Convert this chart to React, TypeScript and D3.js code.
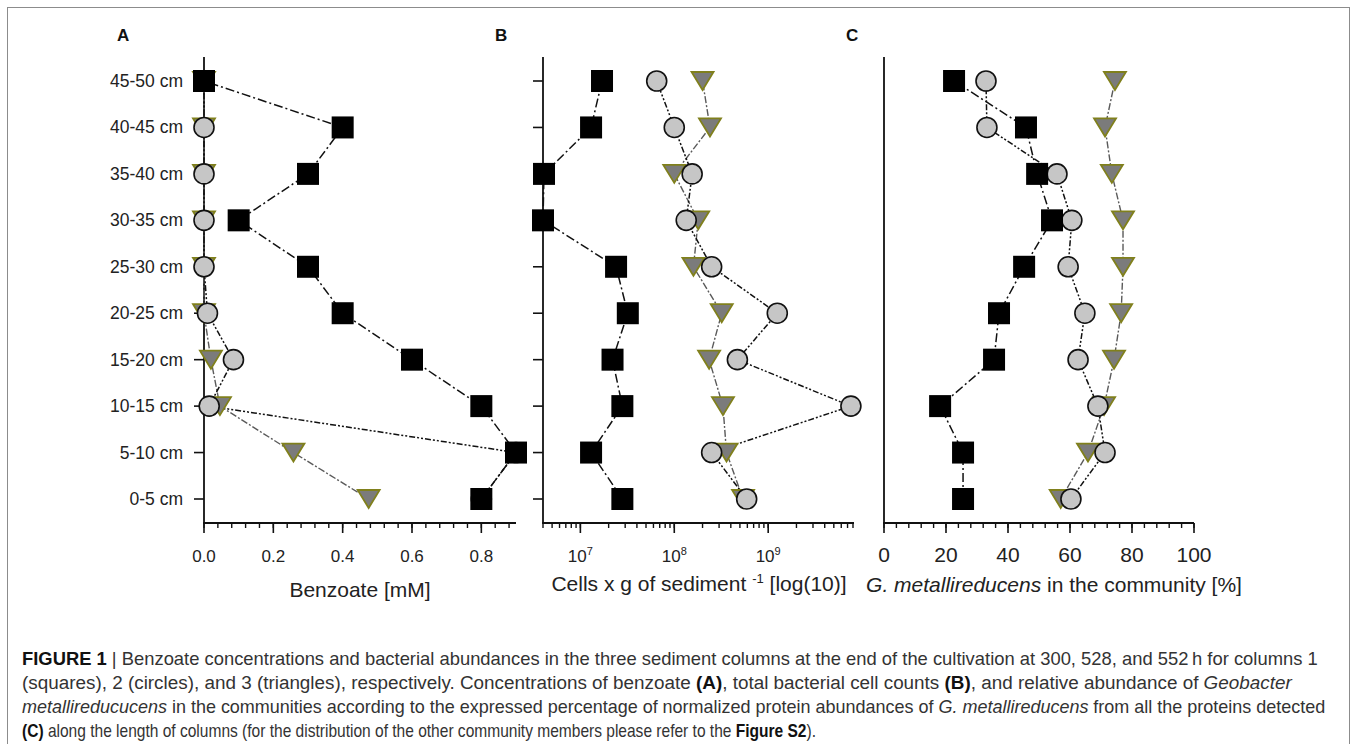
import React, { useEffect, useRef } from 'react';
import * as d3 from 'd3';

// depth classes, bottom of the column first
const depths = ['0-5 cm', '5-10 cm', '10-15 cm', '15-20 cm', '20-25 cm', '25-30 cm', '30-35 cm', '35-40 cm', '40-45 cm', '45-50 cm'];

// A: benzoate [mM]
const benzoateCol1 = [0.8, 0.9, 0.8, 0.6, 0.4, 0.3, 0.1, 0.3, 0.4, 0.0];
const benzoateCol2 = [0.8, 0.9, 0.015, 0.085, 0.01, 0.0, 0.0, 0.0, 0.0, 0.0];
const benzoateCol3 = [0.475, 0.258, 0.046, 0.02, 0.0, 0.0, 0.0, 0.0, 0.0, 0.0];
const benzoateTicks = [0, 0.2, 0.4, 0.6, 0.8];

// B: cells per g sediment
const cellsCol1 = [2.8e7, 1.3e7, 2.8e7, 2.2e7, 3.2e7, 2.4e7, 4.0e6, 4.1e6, 1.3e7, 1.7e7];
const cellsCol2 = [5.9e8, 2.5e8, 7.6e9, 4.7e8, 1.25e9, 2.5e8, 1.34e8, 1.55e8, 1.0e8, 6.5e7];
const cellsCol3 = [5.4e8, 3.6e8, 3.3e8, 2.35e8, 3.2e8, 1.6e8, 1.8e8, 1.0e8, 2.4e8, 2.0e8];
const cellsTicks = [1e7, 1e8, 1e9];

// C: G. metallireducens share [%]
const geoCol1 = [25.5, 25.5, 18.1, 35.5, 37.1, 45.2, 54.2, 49.4, 45.8, 22.6];
const geoCol2 = [60.3, 71.3, 69.0, 62.6, 64.8, 59.4, 60.6, 55.8, 33.2, 32.9];
const geoCol3 = [57, 65.8, 71, 74.2, 76.5, 77.1, 77.1, 73.5, 71.3, 74.5];
const geoTicks = [0, 20, 40, 60, 80, 100];

const W = 1357;
const H = 744;
const top = 57;
const bottom = 523;
const font = 'Liberation Sans, Arial, sans-serif';

const y = d3.scalePoint<string>().domain(depths).range([499, 81]);

type Seg = { t: string; b?: boolean; i?: boolean };
const captionLines: { segs: Seg[]; len: number }[] = [
  { len: 1296, segs: [{ t: 'FIGURE 1', b: true }, { t: ' | Benzoate concentrations and bacterial abundances in the three sediment columns at the end of the cultivation at 300, 528, and 552\u2009h for columns 1' }] },
  { len: 1270, segs: [{ t: '(squares), 2 (circles), and 3 (triangles), respectively. Concentrations of benzoate ' }, { t: '(A)', b: true }, { t: ', total bacterial cell counts ' }, { t: '(B)', b: true }, { t: ', and relative abundance of ' }, { t: 'Geobacter', i: true }] },
  { len: 1304, segs: [{ t: 'metallireducucens', i: true }, { t: ' in the communities according to the expressed percentage of normalized protein abundances of ' }, { t: 'G. metallireducens', i: true }, { t: ' from all the proteins detected' }] },
  { len: 795, segs: [{ t: '(C)', b: true }, { t: ' along the length of columns (for the distribution of the other community members please refer to the ' }, { t: 'Figure S2', b: true }, { t: ').' }] },
];

function drawPanel(svg: any, opts: any) {
  const { x, x0, x1, cols, majors, minors, fmt, yTicks, yLabels, title, titleX, titleY, tickSize } = opts;
  const g = svg.append('g');

  // axes
  g.append('line').attr('x1', x0).attr('x2', x0).attr('y1', top).attr('y2', bottom)
    .attr('stroke', '#111').attr('stroke-width', 1.8);
  g.append('line').attr('x1', x0 - 0.9).attr('x2', x1).attr('y1', bottom).attr('y2', bottom)
    .attr('stroke', '#111').attr('stroke-width', 1.8);

  g.selectAll('.minor').data(minors).enter().append('line')
    .attr('x1', (d: number) => x(d)).attr('x2', (d: number) => x(d))
    .attr('y1', bottom).attr('y2', bottom + 5)
    .attr('stroke', '#111').attr('stroke-width', 1.4);
  g.selectAll('.major').data(majors).enter().append('line')
    .attr('x1', (d: number) => x(d)).attr('x2', (d: number) => x(d))
    .attr('y1', bottom).attr('y2', bottom + 10)
    .attr('stroke', '#111').attr('stroke-width', 1.6);

  const lbl = g.selectAll('.tl').data(majors).enter().append('text')
    .attr('x', (d: number) => x(d)).attr('y', 562)
    .attr('text-anchor', 'middle').attr('font-family', font).attr('font-size', tickSize).attr('fill', '#222');
  fmt(lbl);

  if (yTicks) {
    g.selectAll('.yt').data(depths).enter().append('line')
      .attr('x1', x0 - 10).attr('x2', x0).attr('y1', (d: string) => y(d)).attr('y2', (d: string) => y(d))
      .attr('stroke', '#111').attr('stroke-width', 1.6);
  }
  if (yLabels) {
    g.selectAll('.yl').data(depths).enter().append('text')
      .attr('x', x0 - 21).attr('y', (d: string) => (y(d) as number) + 6)
      .attr('text-anchor', 'end').attr('font-family', font).attr('font-size', 17.5).attr('fill', '#222')
      .text((d: string) => d);
  }

  title(g.append('text').attr('x', titleX).attr('y', titleY).attr('text-anchor', 'middle')
    .attr('font-family', font).attr('font-size', 21).attr('fill', '#222'));

  // series lines
  const line = (vals: number[]) => d3.line<number>()
    .x((v) => x(v)).y((_, i) => y(depths[i]) as number)(vals);
  const styles = [
    { dash: '9,3,2,3', color: '#111', w: 1.5 },
    { dash: '6,2,2,2,2,2', color: '#111', w: 1.5 },
    { dash: '7,2,2,2', color: '#5a5a5a', w: 1.4 },
  ];
  [cols[2], cols[1], cols[0]].forEach((vals: number[], k: number) => {
    const s = styles[2 - k];
    g.append('path').attr('d', line(vals)).attr('fill', 'none')
      .attr('stroke', s.color).attr('stroke-width', s.w).attr('stroke-dasharray', s.dash);
  });

  // markers: triangles, circles, squares
  g.selectAll('.tri').data(cols[2]).enter().append('path')
    .attr('d', (v: number, i: number) => {
      const cx = x(v), cy = y(depths[i]) as number;
      return `M${cx - 11},${cy - 9}L${cx + 11},${cy - 9}L${cx},${cy + 9}Z`;
    })
    .attr('fill', '#7b7b7b').attr('stroke', '#80801c').attr('stroke-width', 1.8).attr('stroke-linejoin', 'miter');
  g.selectAll('.cir').data(cols[1]).enter().append('circle')
    .attr('cx', (v: number) => x(v)).attr('cy', (_: number, i: number) => y(depths[i]))
    .attr('r', 10).attr('fill', '#c6c6c6').attr('stroke', '#111').attr('stroke-width', 1.6);
  g.selectAll('.sq').data(cols[0]).enter().append('rect')
    .attr('x', (v: number) => x(v) - 11).attr('y', (_: number, i: number) => (y(depths[i]) as number) - 11)
    .attr('width', 22).attr('height', 22).attr('fill', '#000');
}

export default function App() {
  const ref = useRef<SVGSVGElement>(null);

  useEffect(() => {
    const svg = d3.select(ref.current);
    svg.selectAll('*').remove();

    svg.append('rect').attr('x', 7.5).attr('y', 7.5).attr('width', 1342).attr('height', 800)
      .attr('fill', 'none').attr('stroke', '#8c8c8c').attr('stroke-width', 1);

    // panel letters
    [['A', 117], ['B', 495], ['C', 846]].forEach(([t, px]) => {
      svg.append('text').attr('x', px).attr('y', 41).attr('font-family', font)
        .attr('font-weight', 'bold').attr('font-size', 17).attr('fill', '#111').text(t as string);
    });

    // A
    const xA = d3.scaleLinear().domain([0, 0.9]).range([204, 516]);
    drawPanel(svg, {
      x: xA, x0: 204, x1: 516,
      cols: [benzoateCol1, benzoateCol2, benzoateCol3],
      majors: benzoateTicks,
      minors: d3.range(0, 0.9001, 0.04),
      tickSize: 17,
      fmt: (sel: any) => sel.text((d: number) => d3.format('.1f')(d)),
      yTicks: true, yLabels: true,
      titleX: 360, titleY: 597,
      title: (t: any) => t.text('Benzoate [mM]'),
    });

    // B
    const xB = d3.scaleLog().domain([4e6, 8.2e9]).range([543, 854]);
    const minorsB: number[] = [];
    for (let e = 6; e <= 9; e++) for (let m = 1; m <= 9; m++) {
      const v = m * Math.pow(10, e);
      if (v >= 4e6 && v <= 8.2e9) minorsB.push(v);
    }
    drawPanel(svg, {
      x: xB, x0: 543, x1: 854,
      cols: [cellsCol1, cellsCol2, cellsCol3],
      majors: cellsTicks,
      minors: minorsB,
      tickSize: 17,
      fmt: (sel: any) => sel.each(function (this: any, d: number) {
        const t = d3.select(this);
        t.append('tspan').text('10');
        t.append('tspan').attr('dy', -7).attr('font-size', 11).text(String(Math.round(Math.log10(d))));
      }),
      yTicks: true, yLabels: false,
      titleX: 699, titleY: 591,
      title: (t: any) => {
        t.append('tspan').text('Cells x g of sediment ');
        t.append('tspan').attr('dy', -8).attr('font-size', 13).text('-1');
        t.append('tspan').attr('dy', 8).text(' [log(10)]');
      },
    });

    // C
    const xC = d3.scaleLinear().domain([0, 100]).range([884, 1194]);
    drawPanel(svg, {
      x: xC, x0: 884, x1: 1194,
      cols: [geoCol1, geoCol2, geoCol3],
      majors: geoTicks,
      minors: d3.range(0, 101, 4),
      tickSize: 21,
      fmt: (sel: any) => sel.text((d: number) => String(d)),
      yTicks: false, yLabels: false,
      titleX: 1054, titleY: 592,
      title: (t: any) => {
        t.append('tspan').attr('font-style', 'italic').text('G. metallireducens');
        t.append('tspan').text(' in the community [%]');
      },
    });

    // caption: narrow face imitated by scaling each line horizontally
    captionLines.forEach((ln, i) => {
      const holder = svg.append('g');
      const t = holder.append('text').attr('x', 0).attr('y', 0)
        .attr('font-family', 'Liberation Sans Narrow, Liberation Sans, Arial, sans-serif')
        .attr('font-size', 18).attr('fill', '#333');
      ln.segs.forEach((s) => {
        const sp = t.append('tspan').text(s.t);
        if (s.b) sp.attr('font-weight', 'bold').attr('fill', '#111');
        if (s.i) sp.attr('font-style', 'italic');
      });
      const natural = (t.node() as SVGTextElement).getComputedTextLength() || ln.len;
      holder.attr('transform', `translate(22,${665 + i * 24}) scale(${ln.len / natural},1)`);
    });
  }, []);

  return (
    <svg ref={ref} width={W} height={H}
      style={{ position: 'absolute', left: 0, top: 0, background: '#fff' }} />
  );
}
